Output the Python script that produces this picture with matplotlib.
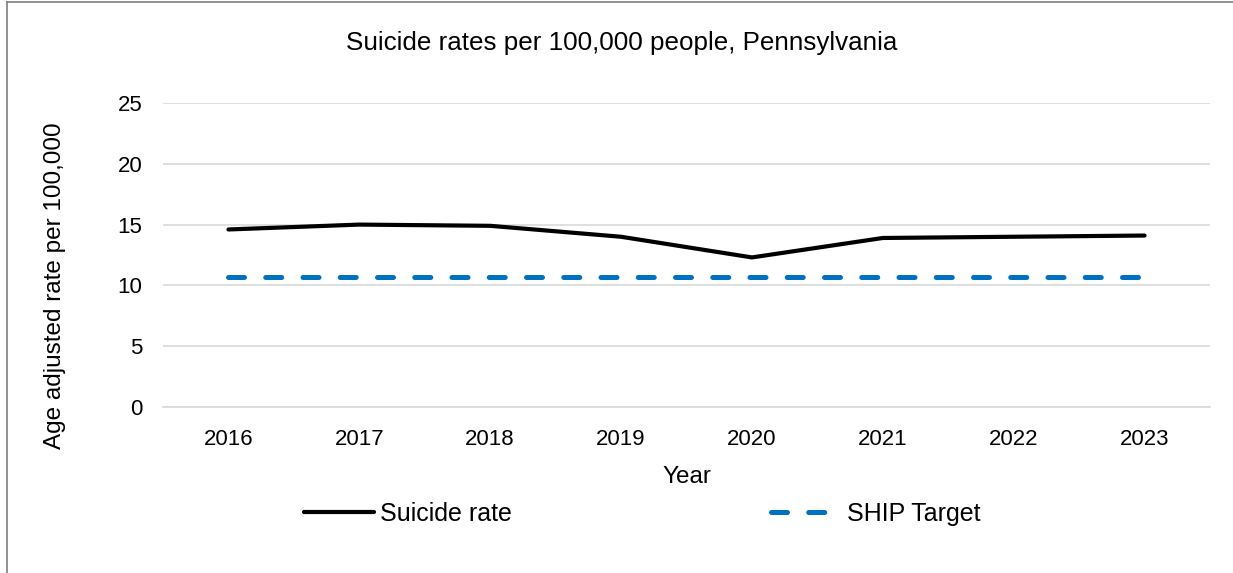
import matplotlib
matplotlib.use("Agg")
import matplotlib.pyplot as plt
from matplotlib.lines import Line2D

years = ["2016", "2017", "2018", "2019", "2020", "2021", "2022", "2023"]
suicide_rate = [14.6, 15.0, 14.9, 14.0, 12.3, 13.9, 14.0, 14.1]
ship_target = [10.7, 10.7, 10.7, 10.7, 10.7, 10.7, 10.7, 10.7]
yticks = [0, 5, 10, 15, 20, 25]

plt.rcParams['font.family'] = ['Liberation Sans', 'DejaVu Sans']

W, H = 1233, 573
fig = plt.figure(figsize=(W / 100, H / 100), dpi=100)
ax = fig.add_axes([163 / W, 1 - 407 / H, (1210 - 163) / W, (407 - 103) / H])

x = list(range(len(years)))
ax.plot(x, suicide_rate, color='black', lw=3.0, solid_capstyle='round',
        solid_joinstyle='round', label='Suicide rate', zorder=3)
ax.plot(x, ship_target, color='#0070C0', lw=3.6, dash_capstyle='round',
        dashes=(3.2, 4.25), label='SHIP Target', zorder=3)

ax.set_xlim(-0.5, len(years) - 0.5)
ax.set_ylim(0, 25)
ax.set_yticks(yticks)
ax.set_xticks(x)
ax.set_xticklabels(years)
ax.grid(axis='y', color='#d9d9d9', lw=1.2)
ax.set_axisbelow(True)
for s in ['top', 'right', 'left']:
    ax.spines[s].set_visible(False)
ax.spines['bottom'].set_color('#d9d9d9')
ax.spines['bottom'].set_linewidth(1.2)
ax.tick_params(length=0, labelsize=16)
ax.tick_params(axis='x', pad=16)
ax.tick_params(axis='y', pad=15)

ax.set_xlabel('Year', fontsize=17.5, va='center')
ax.xaxis.set_label_coords(0.5, (407 - 477) / (407 - 103))
ax.set_ylabel('Age adjusted rate per 100,000', fontsize=17.5, va='center')
ax.yaxis.set_label_coords((55 - 163) / (1210 - 163), (407 - 286) / (407 - 103))

fig.text(622 / W, 1 - 43 / H, 'Suicide rates per 100,000 people, Pennsylvania',
         ha='center', va='center', fontsize=18.7)

leg = fig.legend(loc='center', bbox_to_anchor=(642 / W, 1 - 514 / H), ncol=2,
                 frameon=False, fontsize=18, handlelength=2.8, handletextpad=0.25,
                 columnspacing=10.35)

fig.add_artist(Line2D([7 / W, 7 / W], [0, 1 - 2 / H], transform=fig.transFigure,
                      color='#7f7f7f', lw=1.2))
fig.add_artist(Line2D([7 / W, 1], [1 - 2 / H, 1 - 2 / H], transform=fig.transFigure,
                      color='#7f7f7f', lw=1.2))

fig.savefig('out.png', dpi=100)
